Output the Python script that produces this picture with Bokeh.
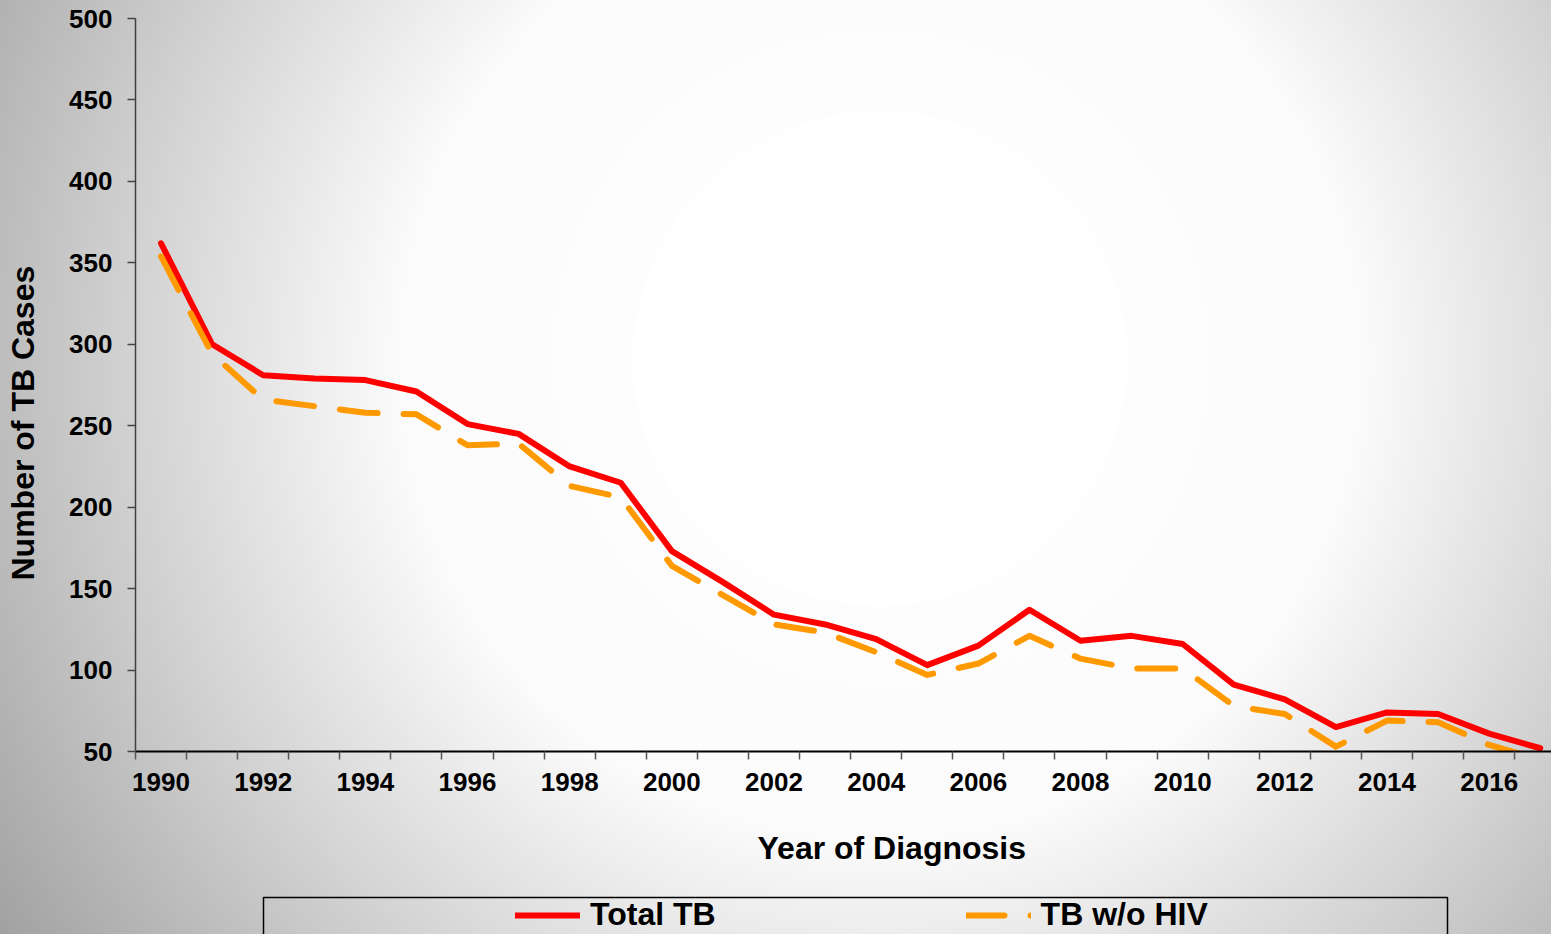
from bokeh.plotting import figure
from bokeh.layouts import column
from bokeh.models import Range1d, FixedTicker, Legend, LegendItem, Title, BoxAnnotation
from bokeh.embed import file_html
from bokeh.resources import INLINE

# ---- data ----
years = list(range(1990, 2018))
total_tb = [362, 300, 281, 279, 278, 271, 251, 245, 225, 215,
            173, 154, 134, 128, 119, 103, 115, 137, 118, 121,
            116, 91, 82, 65, 74, 73, 61, 52]
tb_wo_hiv = [354, 294, 266, 262, 258, 257, 238, 239, 213, 206,
             164, 146, 128, 123, 111, 97, 104, 121, 107, 101,
             101, 78, 73, 53, 69, 68, 54, 45]
y_ticks = [50, 100, 150, 200, 250, 300, 350, 400, 450, 500]
x_label_years = [y for y in years if y % 2 == 0]
x_minor_ticks = [y - 0.5 for y in years] + [years[-1] + 0.5]
series_labels = ["Total TB", "TB w/o HIV"]
series_colors = ["#ff0000", "#ff9900"]

FONT = "Liberation Sans"
W = 1551

p = figure(width=W, height=895, output_backend="svg", toolbar_location=None,
           x_range=Range1d(years[0] - 0.5, years[-1] + 0.22),
           y_range=Range1d(y_ticks[0], y_ticks[-1]),
           min_border_left=135, min_border_right=0, min_border_top=18,
           min_border_bottom=144)
p.border_fill_color = None
p.background_fill_color = None
p.outline_line_color = None
p.grid.visible = False

r1 = p.line(years, total_tb, line_color=series_colors[0], line_width=6,
            line_join="round", line_cap="round")
r2 = p.line(years, tb_wo_hiv, line_color=series_colors[1], line_width=6,
            line_dash="38 26", line_join="round", line_cap="round")

# x axis
xa = p.xaxis[0]
xa.ticker = FixedTicker(ticks=x_label_years, minor_ticks=x_minor_ticks)
xa.major_tick_line_color = None
xa.major_tick_out = 0
xa.major_tick_in = 0
xa.minor_tick_out = 8
xa.minor_tick_in = 0
xa.minor_tick_line_color = "#555555"
xa.minor_tick_line_width = 1.5
xa.axis_line_color = "black"
xa.axis_line_width = 2
xa.major_label_text_font = FONT
xa.major_label_text_font_size = "26px"
xa.major_label_text_font_style = "bold"
xa.major_label_text_color = "black"
xa.major_label_standoff = 13

# y axis
ya = p.yaxis[0]
ya.ticker = FixedTicker(ticks=y_ticks)
ya.major_tick_out = 8
ya.major_tick_in = 0
ya.major_tick_line_color = "#444444"
ya.major_tick_line_width = 1.5
ya.minor_tick_line_color = None
ya.axis_line_color = "#404040"
ya.axis_line_width = 1.5
ya.major_label_text_font = FONT
ya.major_label_text_font_size = "26px"
ya.major_label_text_font_style = "bold"
ya.major_label_text_color = "black"
ya.major_label_standoff = 15

ytitle = Title(text="Number of TB Cases", align="left", offset=171, standoff=0,
               padding=dict(left=0, right=0, top=0, bottom=26),
               text_font=FONT, text_font_size="32px", text_font_style="bold",
               text_color="black")
p.add_layout(ytitle, "left")
xtitle = Title(text="Year of Diagnosis", align="left", offset=622, standoff=28,
               padding=dict(left=0, right=0, top=20, bottom=0),
               text_font=FONT, text_font_size="32px", text_font_style="bold",
               text_color="black")
p.add_layout(xtitle, "below")

# ---- legend strip ----
p2 = figure(width=W, height=39, output_backend="svg", toolbar_location=None,
            x_range=Range1d(0, 1), y_range=Range1d(-37, 2),
            x_axis_type=None, y_axis_type=None,
            min_border_left=135, min_border_right=0, min_border_top=0,
            min_border_bottom=0)
p2.border_fill_color = None
p2.background_fill_color = None
p2.outline_line_color = None
p2.grid.visible = False

# legend keys (same series, outside this strip's ranges so only the keys show)
k1 = p2.line(years, total_tb, line_color=series_colors[0], line_width=6, line_cap="round")
k2 = p2.line(years, tb_wo_hiv, line_color=series_colors[1], line_width=6,
             line_dash="38 26", line_cap="round")

legend_box = BoxAnnotation(left=128, right=1312, left_units="screen", right_units="screen",
                           top=0, bottom=-100, fill_color=None,
                           line_color="black", line_alpha=1.0, line_width=1.5)
p2.add_layout(legend_box)

legend = Legend(items=[LegendItem(label=series_labels[0], renderers=[k1]),
                       LegendItem(label=series_labels[1], renderers=[k2])],
                orientation="horizontal", location=(380, 1), margin=0, padding=0,
                spacing=250, glyph_width=65, glyph_height=30, label_standoff=10,
                border_line_color=None, background_fill_alpha=0,
                label_text_font=FONT, label_text_font_size="32px",
                label_text_font_style="bold", label_text_color="black")
p2.add_layout(legend, "center")

layout = column(p, p2, spacing=0)
layout.styles = {
    "background-image": ("radial-gradient(circle at 880px 359px, #ffffff 0px, #ffffff 244px, "
                         "#fdfdfd 250px, #fbfbfb 480px, #cfcfcf 768px, #a0a0a0 1060px)"),
}

open("out.html", "w").write(file_html(layout, INLINE))
